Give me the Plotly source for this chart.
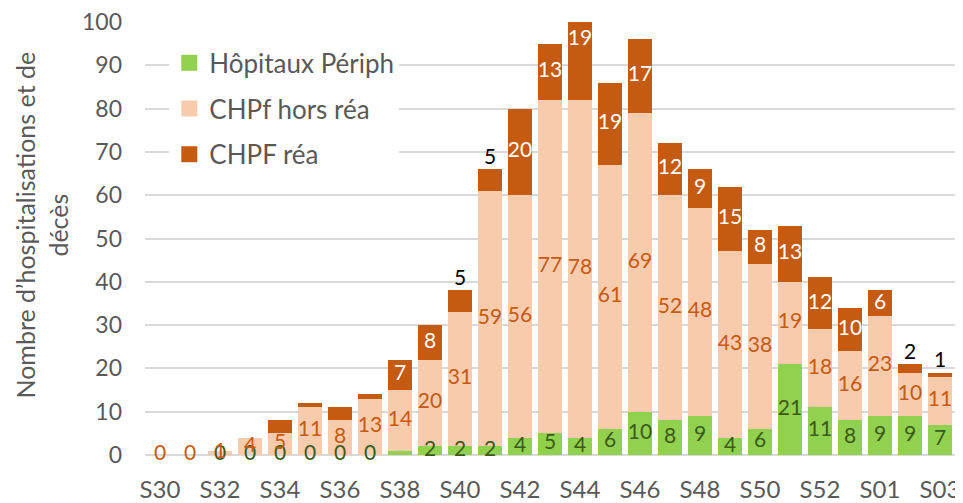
import plotly.graph_objects as go

weeks = ["S30", "S31", "S32", "S33", "S34", "S35", "S36", "S37", "S38", "S39",
         "S40", "S41", "S42", "S43", "S44", "S45", "S46", "S47", "S48", "S49",
         "S50", "S51", "S52", "S53", "S01", "S02", "S03"]
peripheral = [0, 0, 0, 0, 0, 0, 0, 0, 1, 2, 2, 2, 4, 5, 4, 6, 10, 8, 9, 4, 6, 21, 11, 8, 9, 9, 7]
chpf_non_icu = [0, 0, 1, 4, 5, 11, 8, 13, 14, 20, 31, 59, 56, 77, 78, 61, 69, 52, 48, 43, 38, 19, 18, 16, 23, 10, 11]
chpf_icu = [0, 0, 0, 0, 3, 1, 3, 1, 7, 8, 5, 5, 20, 13, 19, 19, 17, 12, 9, 15, 8, 13, 12, 10, 6, 2, 1]
tick_weeks = ["S30", "S32", "S34", "S36", "S38", "S40", "S42", "S44", "S46", "S48", "S50", "S52", "S01", "S03"]
y_title = "Nombre d’hospitalisations et de<br>décès"

YMAX = 100
FONT = "Lato, 'Open Sans', sans-serif"
GREEN, PINK, BROWN = "#92d050", "#f8cbad", "#c55a11"
GREY = "#595959"
LBL = 21

fig = go.Figure()
series = [("Hôpitaux Périph", peripheral, GREEN),
          ("CHPf hors réa", chpf_non_icu, PINK),
          ("CHPF réa", chpf_icu, BROWN)]
for name, vals, col in series:
    fig.add_trace(go.Bar(x=weeks, y=vals, name=name, marker_color=col,
                         marker_line_width=0, showlegend=False, hoverinfo="skip"))
# legend entries with larger square swatches
for name, vals, col in series:
    fig.add_trace(go.Scatter(x=[None], y=[None], mode="markers", name=name, legendgroup=name,
                             marker=dict(symbol="square", size=17, color=col)))

n = len(weeks)
base2 = peripheral
base3 = [peripheral[i] + chpf_non_icu[i] for i in range(n)]
tops = [base3[i] + chpf_icu[i] for i in range(n)]

# green labels
gx, gy, gt = [], [], []
for i in range(2, n):
    if peripheral[i] == 1:
        continue
    gx.append(weeks[i]); gy.append(peripheral[i] / 2); gt.append(str(peripheral[i]))
fig.add_trace(go.Scatter(x=gx, y=gy, text=gt, mode="text", showlegend=False, hoverinfo="skip",
                         textfont=dict(color="#3a5a1a", size=LBL, family=FONT)))

# pink labels
px_, py_, pt_ = [], [], []
for i in range(n):
    px_.append(weeks[i]); py_.append(base2[i] + chpf_non_icu[i] / 2); pt_.append(str(chpf_non_icu[i]))
fig.add_trace(go.Scatter(x=px_, y=py_, text=pt_, mode="text", showlegend=False, hoverinfo="skip",
                         textfont=dict(color=BROWN, size=LBL, family=FONT)))

# icu labels
outside = {"S40", "S41", "S02", "S03"}
ix, iy, it = [], [], []
ox, oy, ot = [], [], []
for i in range(8, n):
    if weeks[i] in outside:
        ox.append(weeks[i]); oy.append(tops[i]); ot.append(str(chpf_icu[i]))
    else:
        top = min(tops[i], YMAX)
        c = (base3[i] + top) / 2
        if tops[i] > YMAX:
            c = YMAX - 4
        ix.append(weeks[i]); iy.append(c); it.append(str(chpf_icu[i]))
fig.add_trace(go.Scatter(x=ix, y=iy, text=it, mode="text", showlegend=False, hoverinfo="skip",
                         textfont=dict(color="white", size=LBL, family=FONT)))
fig.add_trace(go.Scatter(x=ox, y=oy, text=ot, mode="text", textposition="top center",
                         showlegend=False, hoverinfo="skip",
                         textfont=dict(color="black", size=LBL, family=FONT)))

# y-axis title as a rotated annotation
fig.add_annotation(text=y_title, textangle=-90, xref="paper", yref="paper",
                   x=0, y=0.53, xanchor="center", yanchor="middle", xshift=-103,
                   showarrow=False, font=dict(size=25, color=GREY, family=FONT))

# page body has an 8px margin; figure sized/positioned to compensate
fig.update_layout(
    width=955, height=495,
    barmode="stack", bargap=0.17,
    plot_bgcolor="white", paper_bgcolor="white",
    margin=dict(l=137, r=8, t=14, b=48, autoexpand=False),
    font=dict(family=FONT, size=23, color=GREY),
    legend=dict(x=0.03, y=0.96, xanchor="left", yanchor="top",
                bgcolor="white", traceorder="grouped", tracegroupgap=9,
                font=dict(size=26, color=GREY), itemwidth=30),
    xaxis=dict(type="category", categoryorder="array", categoryarray=weeks,
               range=[-0.5, n - 0.5],
               tickmode="array", tickvals=tick_weeks, ticktext=tick_weeks,
               showgrid=False, showline=False, ticks="", automargin=False,
               ticklabelstandoff=18,
               tickfont=dict(size=24, color=GREY)),
    yaxis=dict(range=[0, YMAX], dtick=10, showgrid=True, gridcolor="#d9d9d9", gridwidth=2,
               zeroline=True, zerolinecolor="#d9d9d9", zerolinewidth=2,
               ticks="", ticklabelstandoff=22, automargin=False, ticklabeloverflow="allow",
               tickfont=dict(size=23, color=GREY)),
)
fig.update_traces(cliponaxis=False, selector=dict(type="scatter"))

fig.write_html("out.html")
